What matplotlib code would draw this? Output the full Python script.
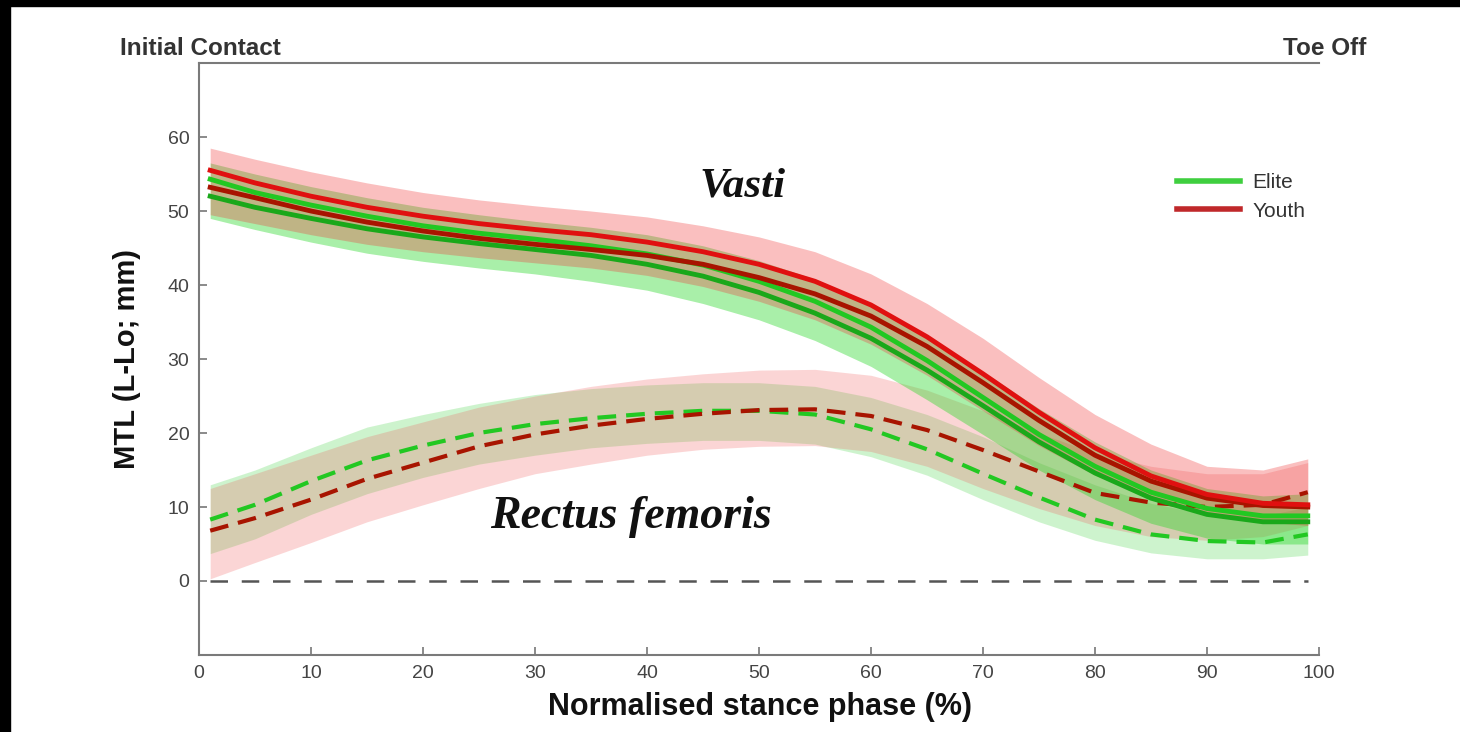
from __future__ import annotations

import matplotlib

matplotlib.use("Agg")
import matplotlib.pyplot as plt
from matplotlib.lines import Line2D
from matplotlib.patches import Rectangle

# stance phase sample points (%)
stance = [1, 5, 10, 15, 20, 25, 30, 35, 40, 45, 50, 55, 60, 65, 70, 75, 80, 85, 90, 95, 99]

# Vasti - youth (two muscle means) and band
vasti_youth_a = [55.5, 53.8, 52.0, 50.5, 49.3, 48.3, 47.5, 46.8, 45.8, 44.5, 42.8, 40.5, 37.3, 33.0,
                 28.0, 22.8, 18.0, 14.2, 11.7, 10.5, 10.3]
vasti_youth_b = [53.2, 51.8, 50.0, 48.5, 47.3, 46.3, 45.5, 44.8, 44.0, 42.8, 41.0, 38.8, 35.8, 31.7,
                 26.8, 21.7, 17.0, 13.5, 11.2, 10.2, 10.0]
vasti_youth_hi = [58.5, 57.0, 55.3, 53.8, 52.5, 51.5, 50.7, 50.0, 49.2, 48.0, 46.5, 44.5, 41.5, 37.5,
                  32.8, 27.5, 22.5, 18.5, 15.5, 15.0, 16.5]
vasti_youth_lo = [49.5, 48.3, 46.8, 45.5, 44.5, 43.7, 43.0, 42.3, 41.3, 39.8, 37.8, 35.3, 32.0, 27.8,
                  23.0, 18.3, 14.3, 11.2, 9.0, 8.0, 7.5]

# Vasti - elite
vasti_elite_a = [54.3, 52.5, 50.8, 49.3, 48.0, 47.0, 46.2, 45.3, 44.2, 42.7, 40.5, 37.8, 34.3, 29.8,
                 24.8, 19.8, 15.5, 12.0, 9.8, 8.8, 8.8]
vasti_elite_b = [52.0, 50.5, 49.0, 47.6, 46.5, 45.6, 44.8, 44.0, 42.8, 41.2, 39.0, 36.2, 32.8, 28.5,
                 23.7, 18.8, 14.6, 11.2, 9.0, 8.0, 8.0]
vasti_elite_hi = [56.5, 55.0, 53.3, 51.8, 50.5, 49.5, 48.6, 47.8, 46.8, 45.3, 43.3, 40.8, 37.5, 33.2,
                  28.3, 23.3, 18.8, 15.0, 12.5, 11.5, 11.8]
vasti_elite_lo = [49.0, 47.5, 45.8, 44.3, 43.2, 42.3, 41.5, 40.5, 39.3, 37.5, 35.3, 32.5, 29.0, 24.5,
                  19.8, 15.0, 11.0, 7.8, 5.8, 5.0, 5.0]

# Rectus femoris - youth
rf_youth = [6.8, 8.5, 11.0, 13.8, 16.0, 18.2, 19.8, 21.0, 21.9, 22.6, 23.1, 23.2, 22.3, 20.4,
            17.7, 14.8, 11.9, 10.6, 10.0, 10.3, 12.0]
rf_youth_hi = [12.5, 14.5, 17.0, 19.5, 21.5, 23.5, 25.0, 26.3, 27.3, 28.0, 28.5, 28.6, 27.8, 25.8,
               23.0, 20.0, 17.3, 15.5, 14.5, 14.5, 16.0]
rf_youth_lo = [0.3, 2.5, 5.2, 8.0, 10.3, 12.5, 14.5, 15.8, 17.0, 17.8, 18.2, 18.3, 17.5, 15.5,
               12.5, 9.8, 7.5, 6.0, 5.5, 6.0, 7.5]

# Rectus femoris - elite
rf_elite = [8.3, 10.3, 13.5, 16.3, 18.3, 20.0, 21.2, 22.0, 22.6, 23.0, 23.0, 22.5, 20.5, 17.8,
            14.5, 11.3, 8.3, 6.3, 5.4, 5.2, 6.3]
rf_elite_hi = [13.0, 15.0, 18.0, 20.8, 22.5, 24.0, 25.2, 26.0, 26.5, 26.8, 26.8, 26.3, 24.8, 22.5,
               19.5, 16.0, 13.0, 10.5, 9.0, 8.8, 10.0]
rf_elite_lo = [3.7, 5.7, 9.0, 11.8, 14.0, 15.8, 17.0, 18.0, 18.6, 19.0, 19.0, 18.5, 16.8, 14.3,
               11.0, 8.0, 5.5, 3.8, 3.0, 3.0, 3.5]

x_ticks = [0, 10, 20, 30, 40, 50, 60, 70, 80, 90, 100]
y_ticks = [0, 10, 20, 30, 40, 50, 60]

GREEN = "#22c822"
GREEN_DARK = "#1aa81a"
RED = "#e01010"
RED_DARK = "#a81400"

plt.rcParams["font.family"] = ["Liberation Sans", "DejaVu Sans"]


def draw_bands(ax):
    ax.fill_between(stance, rf_elite_lo, rf_elite_hi, color="#3ad23a", alpha=0.25, lw=0)
    ax.fill_between(stance, rf_youth_lo, rf_youth_hi, color="#f05a5a", alpha=0.25, lw=0)
    ax.fill_between(stance, vasti_elite_lo, vasti_elite_hi, color="#28d828", alpha=0.4, lw=0)
    ax.fill_between(stance, vasti_youth_lo, vasti_youth_hi, color="#f03a3a", alpha=0.32, lw=0)


def draw_lines(ax):
    ax.hlines(0, stance[0], stance[-1], color="#555555", lw=1.8, linestyles=(0, (7, 5.5)))
    ax.plot(stance, rf_elite, color=GREEN, lw=3, dashes=(4.5, 2.4))
    ax.plot(stance, rf_youth, color=RED_DARK, lw=3, dashes=(4.5, 2.4))
    ax.plot(stance, vasti_elite_b, color=GREEN_DARK, lw=3.5)
    ax.plot(stance, vasti_elite_a, color=GREEN, lw=3.5)
    ax.plot(stance, vasti_youth_b, color=RED_DARK, lw=3.5)
    ax.plot(stance, vasti_youth_a, color=RED, lw=3.5)


def main() -> None:
    fig = plt.figure(figsize=(14.6, 7.32), dpi=100)
    ax = fig.add_axes([0.1363, 0.1052, 0.7671, 0.8087])

    draw_bands(ax)
    draw_lines(ax)

    ax.set_xlim(0, 100)
    ax.set_ylim(-10, 70)
    ax.set_xticks(x_ticks)
    ax.set_yticks(y_ticks)
    ax.tick_params(direction="in", length=6, width=1.2, color="#777777", labelcolor="#444444",
                   labelsize=14, pad=7)
    ax.spines["right"].set_visible(False)
    for side in ["left", "bottom", "top"]:
        ax.spines[side].set_color("#7a7a7a")
        ax.spines[side].set_linewidth(1.5)

    ax.set_xlabel("Normalised stance phase (%)", fontsize=22, fontweight="bold", color="#111111")
    ax.xaxis.set_label_coords(0.501, -0.062)
    ax.set_ylabel("MTL (L-Lo; mm)", fontsize=21, fontweight="bold", color="#111111")
    ax.yaxis.set_label_coords(-0.052, 0.5)

    ax.text(48.5, 53.3, "Vasti", family="Liberation Serif", fontsize=31, fontweight="bold",
            style="italic", ha="center", va="center", color="#111111")
    ax.text(38.6, 8.6, "Rectus femoris", family="Liberation Serif", fontsize=33,
            fontweight="bold", style="italic", ha="center", va="center", color="#111111")

    fig.text(0.082, 0.934, "Initial Contact", fontsize=17.5, fontweight="bold", color="#333333",
             ha="left", va="center")
    fig.text(0.9356, 0.934, "Toe Off", fontsize=17.5, fontweight="bold", color="#333333",
             ha="right", va="center")

    handles = [Line2D([], [], color="#3fcf3f", lw=4), Line2D([], [], color="#c0282a", lw=4)]
    ax.legend(handles, ["Elite", "Youth"], loc="upper left", bbox_to_anchor=(0.866, 0.828),
              frameon=False, fontsize=15, handlelength=3.0, handletextpad=0.6,
              labelspacing=0.45, borderaxespad=0, labelcolor="#333333")

    # black scan border of the source image
    fig.patches.append(Rectangle((0, 0), 10 / 1460, 1, transform=fig.transFigure,
                                 color="black", zorder=10))
    fig.patches.append(Rectangle((0, 1 - 6 / 732), 1, 6 / 732, transform=fig.transFigure,
                                 color="black", zorder=10))

    fig.savefig("out.png", dpi=100)
    plt.close(fig)


if __name__ == "__main__":
    main()
